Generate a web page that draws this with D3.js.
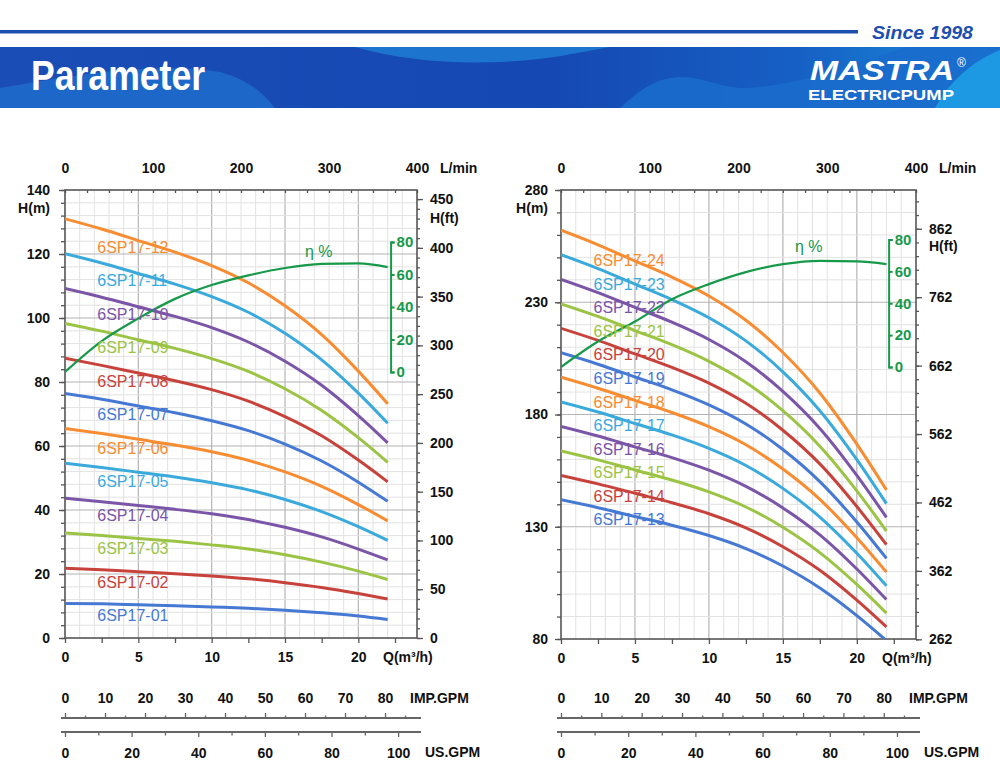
<!DOCTYPE html>
<html><head><meta charset="utf-8">
<script src="https://cdn.jsdelivr.net/npm/d3@7"></script>
<style>
body{margin:0;background:#fff;}
svg{display:block;font-family:"Liberation Sans",Arial,Helvetica,sans-serif;}
</style>
</head><body>
<svg id="c" width="1000" height="781"></svg>
<script>
// ---------------- DATA ----------------
const flowQ = [0, 2.5, 5, 7.5, 10, 12.5, 15, 17.5, 20, 22];

const leftModels = ["6SP17-01","6SP17-02","6SP17-03","6SP17-04","6SP17-05","6SP17-06",
                    "6SP17-07","6SP17-08","6SP17-09","6SP17-10","6SP17-11","6SP17-12"];
const leftHeads = [
  [10.8, 10.7, 10.4, 10.1, 9.7, 9.3, 8.7, 7.9, 6.9, 5.8],
  [21.8, 21.3, 20.7, 20.1, 19.4, 18.5, 17.3, 15.8, 13.9, 12.2],
  [32.8, 32.0, 31.1, 30.2, 29.1, 27.8, 26.0, 23.7, 20.9, 18.3],
  [43.7, 42.6, 41.4, 40.2, 38.8, 37.0, 34.6, 31.6, 27.8, 24.4],
  [54.6, 53.3, 51.8, 50.3, 48.5, 46.3, 43.3, 39.5, 34.8, 30.5],
  [65.5, 63.9, 62.1, 60.3, 58.2, 55.5, 51.9, 47.4, 41.7, 36.6],
  [76.4, 74.6, 72.5, 70.4, 67.9, 64.8, 60.6, 55.3, 48.7, 42.7],
  [87.4, 85.2, 82.8, 80.4, 77.6, 74.0, 69.2, 63.2, 55.6, 48.8],
  [98.3, 95.9, 93.2, 90.5, 87.3, 83.3, 77.9, 71.1, 62.6, 54.9],
  [109.2, 106.5, 103.5, 100.5, 97.0, 92.5, 86.5, 79.0, 69.5, 61.0],
  [120.1, 117.2, 113.9, 110.6, 106.7, 101.8, 95.2, 86.9, 76.5, 67.1],
  [131.0, 127.8, 124.2, 120.6, 116.4, 111.0, 103.8, 94.8, 83.4, 73.2]
];

const rightModels = ["6SP17-13","6SP17-14","6SP17-15","6SP17-16","6SP17-17","6SP17-18",
                     "6SP17-19","6SP17-20","6SP17-21","6SP17-22","6SP17-23","6SP17-24"];
const rightHeads = [
  [142.0, 138.5, 134.6, 130.7, 126.1, 120.3, 112.5, 102.7, 90.4, 79.3],
  [152.9, 149.1, 144.9, 140.7, 135.8, 129.5, 121.1, 110.6, 97.3, 85.4],
  [163.8, 159.8, 155.3, 150.8, 145.5, 138.8, 129.8, 118.5, 104.3, 91.5],
  [174.7, 170.4, 165.6, 160.8, 155.2, 148.0, 138.4, 126.4, 111.2, 97.6],
  [185.6, 181.1, 176.0, 170.9, 164.9, 157.3, 147.1, 134.3, 118.2, 103.7],
  [196.6, 191.7, 186.3, 180.9, 174.6, 166.5, 155.7, 142.2, 125.1, 109.8],
  [207.5, 202.4, 196.7, 191.0, 184.3, 175.8, 164.4, 150.1, 132.1, 115.9],
  [218.4, 213.0, 207.0, 201.0, 194.0, 185.0, 173.0, 158.0, 139.0, 122.0],
  [229.3, 223.7, 217.4, 211.1, 203.7, 194.3, 181.7, 165.9, 146.0, 128.1],
  [240.2, 234.3, 227.7, 221.1, 213.4, 203.5, 190.3, 173.8, 152.9, 134.2],
  [251.2, 245.0, 238.1, 231.2, 223.1, 212.8, 199.0, 181.7, 159.9, 140.3],
  [262.1, 255.6, 248.4, 241.2, 232.8, 222.0, 207.6, 189.6, 166.8, 146.4]
];

const leftEff  = [0, 19, 33, 45, 53.5, 59.5, 64, 66.5, 66.8, 64.5];
const rightEff = [0, 16, 28.5, 42.5, 52, 59.5, 64.5, 66.6, 66.3, 64.6];

const seriesColors = ["#4679d3","#c8423c","#9cc444","#7b55a7","#3aaadc","#f78c31"];
const effColor = "#17994a";

const lpmTicks = [0, 100, 200, 300, 400];
const qTicks = [0, 5, 10, 15, 20];
const leftHTicks = [0, 20, 40, 60, 80, 100, 120, 140];
const leftFtTicks = [0, 50, 100, 150, 200, 250, 300, 350, 400, 450];
const rightHTicks = [80, 130, 180, 230, 280];
const rightFtTicks = [262, 362, 462, 562, 662, 762, 862];
const effTicks = [0, 20, 40, 60, 80];
const impTicks = [0, 10, 20, 30, 40, 50, 60, 70, 80];
const usTicks = [0, 20, 40, 60, 80, 100];

// unit conversions
const M_TO_FT = 3.28084, M3H_TO_LPM = 1000/60, M3H_TO_IMP = 3.6662, M3H_TO_US = 4.4029;

// ---------------- DRAW ----------------
const svg = d3.select("#c");
const defs = svg.append("defs");

// header
svg.append("rect").attr("x",0).attr("y",30).attr("width",858).attr("height",3.5).attr("fill","#1c4fb0");
svg.append("text").attr("x",872).attr("y",39).attr("font-size",19).attr("font-weight","bold")
  .attr("font-style","italic").attr("fill","#1c4fb0").attr("textLength",101)
  .attr("lengthAdjust","spacingAndGlyphs").text("Since 1998");

const bg = defs.append("linearGradient").attr("id","bg").attr("x1","0").attr("x2","1").attr("y1","0").attr("y2","0");
bg.append("stop").attr("offset","0").attr("stop-color","#1a4db6");
bg.append("stop").attr("offset","0.55").attr("stop-color","#1548b2");
bg.append("stop").attr("offset","0.8").attr("stop-color","#1660c4");
bg.append("stop").attr("offset","1").attr("stop-color","#1a8fdc");
const banner = svg.append("g");
defs.append("clipPath").attr("id","bclip").append("rect").attr("x",0).attr("y",47).attr("width",1000).attr("height",61);
banner.attr("clip-path","url(#bclip)");
banner.append("rect").attr("x",0).attr("y",47).attr("width",1000).attr("height",61).attr("fill","url(#bg)");
banner.append("path").attr("d","M0,108 L0,88 C60,78 150,60 220,72 C250,80 265,95 275,108 Z").attr("fill","#1f6ccb").attr("opacity",0.85);
banner.append("path").attr("d","M355,47 C400,60 450,64 500,62 C550,60 580,52 610,47 Z").attr("fill","#1f7fd4").attr("opacity",0.8);
banner.append("path").attr("d","M620,108 C640,90 655,78 680,77 C705,77 720,88 745,88 C800,86 870,60 905,47 L1000,47 L1000,108 Z").attr("fill","#1a6bcc").attr("opacity",0.9);
banner.append("path").attr("d","M935,108 C950,80 975,60 1000,50 L1000,108 Z").attr("fill","#1d98e2");
banner.append("text").attr("x",31).attr("y",90).attr("font-size",42).attr("font-weight","bold")
  .attr("fill","#fff").attr("textLength",174).attr("lengthAdjust","spacingAndGlyphs").text("Parameter");
banner.append("text").attr("x",810).attr("y",80).attr("font-size",27).attr("font-weight","bold")
  .attr("font-style","italic").attr("fill","#fff").attr("textLength",144).attr("lengthAdjust","spacingAndGlyphs").text("MASTRA");
banner.append("text").attr("x",808).attr("y",100).attr("font-size",15).attr("font-weight","bold")
  .attr("fill","#fff").attr("textLength",146).attr("lengthAdjust","spacingAndGlyphs").text("ELECTRICPUMP");
svg.append("text").attr("x",957).attr("y",67).attr("font-size",12).attr("fill","#fff").text("®");

function styleAxis(g, color, fs, weight) {
  g.select(".domain").remove();
  g.selectAll(".tick line").attr("stroke", color).attr("stroke-width", 1.3);
  g.selectAll(".tick text").attr("fill", "#111").attr("font-size", fs).attr("font-weight", weight)
    .attr("font-family", "'Liberation Sans',Arial,sans-serif");
}

function drawChart(o) {
  const g = svg.append("g");
  const x = d3.scaleLinear().domain([0, 24]).range([o.x0, o.x1]);
  const y = d3.scaleLinear().domain(o.hDomain).range([o.yBottom, o.yTop]);
  const xl = d3.scaleLinear().domain([0, 24*M3H_TO_LPM]).range([o.x0, o.x1]);
  const yft = d3.scaleLinear().domain(o.hDomain.map(v => v*M_TO_FT)).range([o.yBottom, o.yTop]);
  const ye = d3.scaleLinear().domain([0, 80]).range([o.effY0, o.effY80]);

  // grid
  const grid = g.append("g");
  d3.range(1, 24).forEach(q => {
    grid.append("line").attr("x1", x(q)).attr("x2", x(q)).attr("y1", o.yTop).attr("y2", o.yBottom)
      .attr("stroke", q % 5 === 0 ? "#b4b4b4" : "#e2e2e2").attr("stroke-width", q % 5 === 0 ? 1.2 : 1);
  });
  d3.range(o.hDomain[0] + o.hMinor, o.hDomain[1], o.hMinor).forEach(h => {
    const major = o.hTicks.includes(h);
    grid.append("line").attr("x1", o.x0).attr("x2", o.x1).attr("y1", y(h)).attr("y2", y(h))
      .attr("stroke", major ? "#b4b4b4" : "#e2e2e2").attr("stroke-width", major ? 1.2 : 1);
  });

  // axes
  const axCol = "#555";
  g.append("g").attr("transform", `translate(${o.x0},0)`)
    .call(d3.axisLeft(y).tickValues(d3.range(o.hDomain[0], o.hDomain[1] + 0.01, o.hMinor)).tickSize(4).tickFormat(""))
    .call(a => styleAxis(a, axCol, 14, "bold"));
  g.append("g").attr("transform", `translate(${o.x0},0)`)
    .call(d3.axisLeft(y).tickValues(o.hTicks).tickSize(6).tickPadding(o.leftPad))
    .call(a => styleAxis(a, axCol, 14, "bold"));
  g.append("g").attr("transform", `translate(0,${o.yBottom})`)
    .call(d3.axisBottom(x).tickValues(d3.range(0, 23, 2.5)).tickSize(5).tickFormat(""))
    .call(a => styleAxis(a, axCol, 14, "bold"));
  g.append("g").attr("transform", `translate(0,${o.yBottom})`)
    .call(d3.axisBottom(x).tickValues(qTicks).tickSize(0).tickPadding(14))
    .call(a => styleAxis(a, axCol, 14, "bold"));
  g.append("g").attr("transform", `translate(0,${o.yTop})`)
    .call(d3.axisTop(xl).tickValues(d3.range(0, 401, 25)).tickSize(-3).tickFormat(""))
    .call(a => styleAxis(a, axCol, 14, "bold"));
  g.append("g").attr("transform", `translate(0,${o.yTop})`)
    .call(d3.axisTop(xl).tickValues(lpmTicks).tickSize(0).tickPadding(17))
    .call(a => styleAxis(a, axCol, 14, "bold"));
  g.append("g").attr("transform", `translate(${o.x1},0)`)
    .call(d3.axisRight(yft).tickValues(d3.range(o.ftTicks[0], yft.domain()[1], o.ftMinor)).tickSize(3).tickFormat(""))
    .call(a => styleAxis(a, axCol, 14, "bold"));
  g.append("g").attr("transform", `translate(${o.x1},0)`)
    .call(d3.axisRight(yft).tickValues(o.ftTicks).tickSize(6).tickPadding(7))
    .call(a => styleAxis(a, axCol, 14, "bold"));

  // frame
  g.append("rect").attr("x", o.x0).attr("y", o.yTop).attr("width", o.x1 - o.x0).attr("height", o.yBottom - o.yTop)
    .attr("fill", "none").attr("stroke", axCol).attr("stroke-width", 1.6);

  // axis titles
  const t = (tx, ty, s, anchor, col, fs, w) => g.append("text").attr("x", tx).attr("y", ty)
      .attr("text-anchor", anchor || "start").attr("fill", col || "#111").attr("font-size", fs || 14)
      .attr("font-weight", w || "bold").text(s);
  t(o.x0 - o.leftPad - 6, o.yTop + 23, "H(m)", "end");
  t(o.x1 + 13, o.ftLabelY, "H(ft)");
  t(o.x1 + 23, o.yTop - 17, "L/min");
  t(o.x1 - 34, o.yBottom + 24, "Q(m³/h)");

  // clip
  const cid = "clip" + o.id;
  defs.append("clipPath").attr("id", cid).append("rect").attr("x", o.x0).attr("y", o.yTop)
    .attr("width", o.x1 - o.x0).attr("height", o.yBottom - o.yTop);
  const plot = g.append("g").attr("clip-path", `url(#${cid})`);

  const line = d3.line().x((d, i) => x(flowQ[i])).y(d => y(d)).curve(d3.curveMonotoneX);
  o.heads.forEach((hs, i) => {
    plot.append("path").attr("d", line(hs)).attr("fill", "none")
      .attr("stroke", seriesColors[i % 6]).attr("stroke-width", 3).attr("stroke-linecap", "butt");
  });
  // labels
  o.heads.forEach((hs, i) => {
    const hAt = d3.scaleLinear().domain(flowQ).range(hs)(4);
    g.append("text").attr("x", x(2.2)).attr("y", y(hAt) + o.labelOff)
      .attr("font-size", 16).attr("fill", seriesColors[i % 6]).text(o.models[i]);
  });

  // efficiency
  const eline = d3.line().x((d, i) => x(flowQ[i])).y(d => ye(d)).curve(d3.curveMonotoneX);
  plot.append("path").attr("d", eline(o.eff)).attr("fill", "none").attr("stroke", effColor).attr("stroke-width", 2.2);
  const ex = x(o.effQ);
  g.append("g").attr("transform", `translate(${ex},0)`)
    .call(d3.axisRight(ye).tickValues(effTicks).tickSize(4).tickPadding(2))
    .call(a => {
      a.select(".domain").attr("stroke", effColor).attr("stroke-width", 2);
      a.selectAll(".tick line").attr("stroke", effColor).attr("stroke-width", 2);
      a.selectAll(".tick text").attr("fill", effColor).attr("font-size", 15).attr("font-weight", "bold")
        .attr("font-family", "'Liberation Sans',Arial,sans-serif");
    });
  t(o.etaX, o.etaY, "η %", "start", effColor, 16, "normal");

  // GPM scales
  const ximp = d3.scaleLinear().domain([0, 24*M3H_TO_IMP]).range([o.x0, o.x1]);
  const xus = d3.scaleLinear().domain([0, 24*M3H_TO_US]).range([o.x0, o.x1]);
  const gy1 = 718, gy2 = 732;
  g.append("line").attr("x1", o.x0 - 4).attr("x2", o.x1 + 4).attr("y1", gy1).attr("y2", gy1).attr("stroke", "#666").attr("stroke-width", 1.8);
  g.append("line").attr("x1", o.x0 - 4).attr("x2", o.x1 + 4).attr("y1", gy2).attr("y2", gy2).attr("stroke", "#666").attr("stroke-width", 1.8);
  g.append("g").attr("transform", `translate(0,${gy1})`)
    .call(d3.axisTop(ximp).tickValues(d3.range(5, 90, 10)).tickSize(2.5).tickFormat(""))
    .call(a => styleAxis(a, "#666", 14, "bold"));
  g.append("g").attr("transform", `translate(0,${gy1})`)
    .call(d3.axisTop(ximp).tickValues(impTicks).tickSize(5).tickPadding(10))
    .call(a => styleAxis(a, "#666", 14, "bold"));
  g.append("g").attr("transform", `translate(0,${gy2})`)
    .call(d3.axisBottom(xus).tickValues(d3.range(10, 101, 20)).tickSize(3.5).tickFormat(""))
    .call(a => styleAxis(a, "#666", 14, "bold"));
  g.append("g").attr("transform", `translate(0,${gy2})`)
    .call(d3.axisBottom(xus).tickValues(usTicks).tickSize(5).tickPadding(11))
    .call(a => styleAxis(a, "#666", 14, "bold"));
  t(o.x1 - 7, 703, "IMP.GPM");
  t(o.x1 + 8, 757, "US.GPM");
}

drawChart({id: "L", x0: 65, x1: 417, yBottom: 638, yTop: 190, hDomain: [0, 140], hMinor: 4,
  hTicks: leftHTicks, ftTicks: leftFtTicks, ftMinor: 10, ftLabelY: 223, leftPad: 9,
  heads: leftHeads, models: leftModels, eff: leftEff, effQ: 22.2, effY0: 372, effY80: 242,
  labelOff: 17, etaX: 305, etaY: 257});
drawChart({id: "R", x0: 561, x1: 916, yBottom: 639, yTop: 190, hDomain: [80, 280], hMinor: 10,
  hTicks: rightHTicks, ftTicks: rightFtTicks, ftMinor: 20, ftLabelY: 251, leftPad: 7,
  heads: rightHeads, models: rightModels, eff: rightEff, effQ: 22.15, effY0: 367, effY80: 239.5,
  labelOff: 12, etaX: 795, etaY: 252});
</script>
</body></html>
